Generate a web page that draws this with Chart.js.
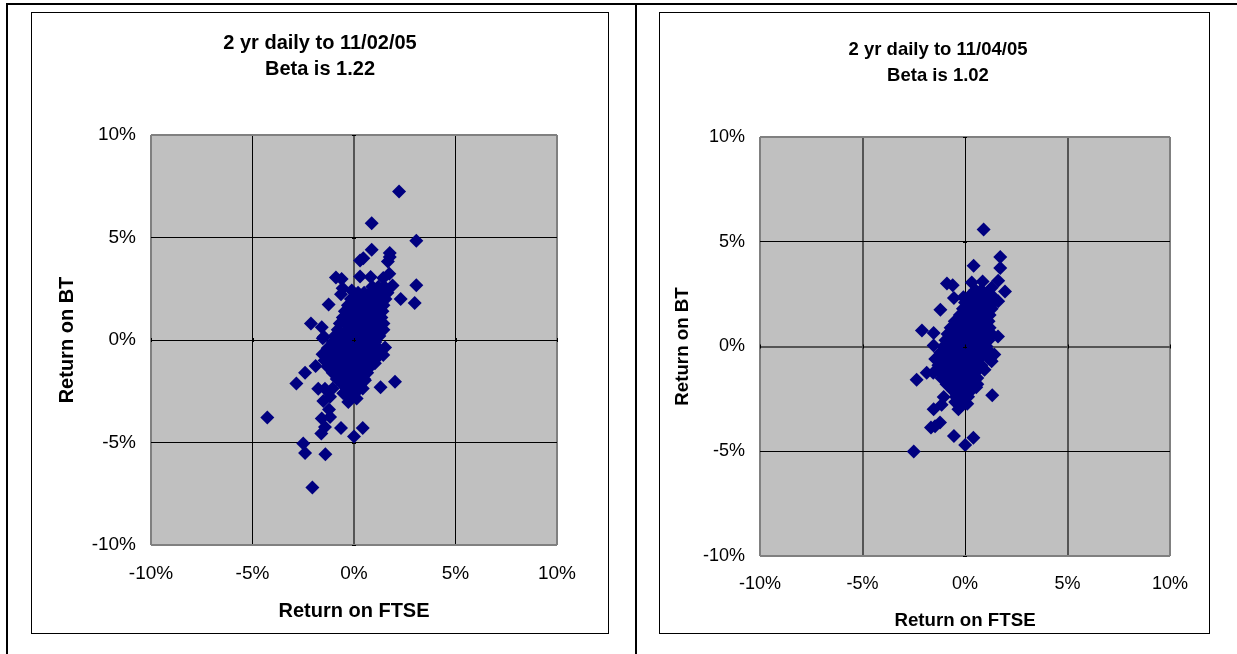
<!DOCTYPE html>
<html>
<head>
<meta charset="utf-8">
<script src="https://cdn.jsdelivr.net/npm/chart.js@4/dist/chart.umd.min.js"></script>
<style>
html,body{margin:0;padding:0;background:#fff;overflow:hidden}
#page{position:relative;width:1237px;height:654px;overflow:hidden}
.rule{position:absolute;background:#000}
.box{position:absolute;border:1px solid #000;box-sizing:border-box}
canvas{position:absolute}
</style>
</head>
<body>
<div id="page">
<div class="rule" style="left:6px;top:3px;width:1231px;height:2px"></div>
<div class="rule" style="left:6px;top:3px;width:2px;height:651px"></div>
<div class="rule" style="left:635px;top:3px;width:2px;height:651px"></div>
<div class="box" style="left:31px;top:12px;width:578px;height:622px"></div>
<div class="box" style="left:659px;top:12px;width:551px;height:622px"></div>
<canvas id="c1" width="578" height="622" style="left:31px;top:12px"></canvas>
<canvas id="c2" width="558" height="622" style="left:659px;top:12px"></canvas>
</div>
<script>
const titleFeb = ["2 yr daily to 11/02/05", "Beta is 1.22"];
const titleApr = ["2 yr daily to 11/04/05", "Beta is 1.02"];
const xAxisTitle = "Return on FTSE";
const yAxisTitle = "Return on BT";

const outliersFeb = [[2.22,7.24],[0.87,5.69],[3.07,4.84],[0.87,4.4],[0.46,3.99],[0.3,3.88],[1.76,4.25],[1.76,4.05],[1.67,3.83],
[-0.89,3.05],[-0.61,2.97],[0.3,3.1],[0.82,3.07],[1.74,3.23],[1.44,3.02],[1.9,2.66],[3.07,2.67],[2.3,2.0],[2.99,1.81],
[-1.25,1.73],[-0.64,2.23],[-0.56,2.53],[-0.11,2.41],[-2.12,0.8],[-1.59,0.62],[-1.48,0.16],[-1.54,0.08],[-1.89,-1.27],
[-2.41,-1.6],[-2.84,-2.12],[-1.76,-2.38],[-1.43,-2.38],[-1.05,-2.36],[-1.18,-2.77],[-1.51,-2.98],[-1.23,-3.39],[-1.18,-3.75],
[-1.59,-3.83],[-1.43,-4.24],[-1.61,-4.56],[-0.64,-4.29],[0.43,-4.29],[0,-4.71],[-4.27,-3.78],[-2.5,-5.05],[-2.41,-5.51],
[-1.41,-5.57],[-2.05,-7.2],[1.31,-2.31],[2.02,-2.04],[-0.28,-3.02],[0.13,-2.85],[-0.53,-2.6],[0.43,-2.36],[0.54,-1.96],
[1.03,-1.14],[1.44,-0.73],[1.53,-0.36]];

const clusterFeb = [[0.9,2.6],[1.2,2.6],[1.5,2.6],
[0.2,2.3],[0.5,2.3],[0.8,2.3],[1.1,2.3],[1.45,2.3],[1.65,2.3],
[-0.15,2.0],[0.05,2.0],[0.35,2.0],[0.7,2.0],[1.0,2.0],[1.3,2.0],[1.55,2.0],
[-0.3,1.7],[-0.1,1.7],[0.2,1.7],[0.5,1.7],[0.85,1.7],[1.15,1.7],[1.45,1.7],
[-0.45,1.4],[-0.25,1.4],[0.1,1.4],[0.4,1.4],[0.75,1.4],[1.05,1.4],[1.4,1.4],
[-0.55,1.1],[-0.25,1.1],[0.05,1.1],[0.3,1.1],[0.65,1.1],[1.0,1.1],[1.35,1.1],
[-0.7,0.8],[-0.35,0.8],[0,0.8],[0.3,0.8],[0.5,0.8],[0.85,0.8],[1.2,0.8],[1.45,0.8],
[-0.8,0.5],[-0.35,0.5],[0,0.5],[0.35,0.5],[0.7,0.5],[1.05,0.5],[1.45,0.5],
[-0.95,0.2],[-0.5,0.2],[-0.15,0.2],[0.2,0.2],[0.55,0.2],[0.9,0.2],[1.25,0.2],
[-1.05,-0.1],[-0.7,-0.1],[-0.35,-0.1],[0,-0.1],[0.35,-0.1],[0.7,-0.1],[1.05,-0.1],
[-1.3,-0.4],[-0.95,-0.4],[-0.6,-0.4],[-0.25,-0.4],[0.1,-0.4],[0.45,-0.4],[0.8,-0.4],[1.2,-0.4],
[-1.55,-0.7],[-1.2,-0.7],[-0.85,-0.7],[-0.5,-0.7],[-0.15,-0.7],[0.2,-0.7],[0.55,-0.7],[0.9,-0.7],[1.3,-0.7],
[-1.45,-1.0],[-1.1,-1.0],[-0.75,-1.0],[-0.4,-1.0],[-0.05,-1.0],[0.3,-1.0],[0.65,-1.0],[1.0,-1.0],
[-1.3,-1.3],[-0.95,-1.3],[-0.6,-1.3],[-0.25,-1.3],[0.1,-1.3],[0.45,-1.3],[0.8,-1.3],
[-1.05,-1.6],[-0.7,-1.6],[-0.35,-1.6],[0,-1.6],[0.35,-1.6],[0.65,-1.6],
[-0.85,-1.9],[-0.5,-1.9],[-0.15,-1.9],[0.2,-1.9],[0.5,-1.9],
[-0.55,-2.2],[-0.25,-2.2],[0.05,-2.2],[0.3,-2.2],
[-0.4,-2.5],[-0.1,-2.5],[0.15,-2.5],[-0.25,-2.8]];

const outliersApr = [[0.91,5.59],[1.72,4.27],[1.72,3.75],[0.42,3.86],[-0.88,3.01],[-0.6,2.92],[0.33,3.06],[0.86,3.1],[1.62,3.14],
[1.3,2.8],[1.95,2.62],[1.62,2.16],[-0.54,2.32],[-0.08,2.35],[-1.2,1.76],[-2.1,0.76],[-1.53,0.65],[-1.53,0.05],[1.61,0.48],
[-2.36,-1.59],[-1.87,-1.25],[-1.55,-1.25],[-1.04,-2.41],[-1.14,-2.78],[-1.53,-3.0],[1.33,-2.33],[-1.22,-3.63],[-1.46,-3.81],
[-1.66,-3.87],[-0.54,-4.27],[0.41,-4.35],[0.01,-4.7],[-2.5,-5.01],[-0.32,-3.0],[-0.48,-2.65],[0.11,-2.73],[0.55,-1.94],
[0.95,-1.11],[1.3,-0.7],[1.43,-0.38]];

const clusterApr = [[0.5,2.7],[0.8,2.7],
[0.2,2.4],[0.5,2.4],[0.8,2.4],[1.1,2.4],[1.35,2.4],
[0,2.1],[0.3,2.1],[0.6,2.1],[0.9,2.1],[1.2,2.1],[1.4,2.1],
[-0.1,1.8],[0.2,1.8],[0.5,1.8],[0.8,1.8],[1.1,1.8],[1.3,1.8],
[-0.25,1.5],[0.05,1.5],[0.35,1.5],[0.65,1.5],[0.95,1.5],[1.2,1.5],
[-0.5,1.2],[-0.2,1.2],[0.1,1.2],[0.4,1.2],[0.7,1.2],[1.15,1.2],
[-0.7,0.9],[-0.4,0.9],[0,0.9],[0.3,0.9],[0.6,0.9],[0.9,0.9],[1.2,0.9],
[-0.85,0.6],[-0.5,0.6],[-0.2,0.6],[0.1,0.6],[0.4,0.6],[0.7,0.6],[1.0,0.6],[1.3,0.6],
[-0.95,0.3],[-0.65,0.3],[-0.35,0.3],[-0.05,0.3],[0.25,0.3],[0.55,0.3],[0.85,0.3],[1.15,0.3],
[-1.05,0],[-0.75,0],[-0.45,0],[-0.15,0],[0.15,0],[0.45,0],[0.75,0],[1.05,0],
[-1.2,-0.3],[-0.9,-0.3],[-0.6,-0.3],[-0.3,-0.3],[0,-0.3],[0.3,-0.3],[0.6,-0.3],[0.9,-0.3],[1.25,-0.3],
[-1.45,-0.6],[-1.1,-0.6],[-0.8,-0.6],[-0.5,-0.6],[-0.2,-0.6],[0.1,-0.6],[0.4,-0.6],[0.7,-0.6],[1.2,-0.6],
[-1.3,-0.9],[-1.0,-0.9],[-0.7,-0.9],[-0.4,-0.9],[-0.1,-0.9],[0.2,-0.9],[0.5,-0.9],[0.8,-0.9],
[-1.25,-1.2],[-0.95,-1.2],[-0.65,-1.2],[-0.35,-1.2],[-0.05,-1.2],[0.25,-1.2],[0.55,-1.2],
[-1.15,-1.5],[-0.85,-1.5],[-0.55,-1.5],[-0.25,-1.5],[0.05,-1.5],[0.35,-1.5],[0.6,-1.5],
[-0.9,-1.8],[-0.6,-1.8],[-0.3,-1.8],[0,-1.8],[0.3,-1.8],[0.6,-1.8],
[-0.6,-2.1],[-0.3,-2.1],[0,-2.1],[0.3,-2.1],
[-0.45,-2.4],[-0.15,-2.4],[0.15,-2.4],[-0.3,-2.7],[0,-2.7]];

const font = "'Liberation Sans', Arial, sans-serif";
const markerColor = "#000080";
const plotColor = "#C0C0C0";

const plotBackground = {
  id: "plotBackground",
  beforeDraw(chart) {
    const a = chart.chartArea, c = chart.ctx;
    c.save(); c.fillStyle = plotColor;
    c.fillRect(a.left, a.top, a.right - a.left, a.bottom - a.top);
    c.restore();
  }
};
const crossTicks = {
  id: "crossTicks",
  afterDraw(chart) {
    const c = chart.ctx, x = chart.scales.x, y = chart.scales.y;
    const x0 = x.getPixelForValue(0), y0 = y.getPixelForValue(0);
    c.save(); c.strokeStyle = "#000"; c.lineWidth = 1; c.beginPath();
    x.ticks.forEach(t => { const p = Math.round(x.getPixelForValue(t.value)) + .5; c.moveTo(p, y0 - 2); c.lineTo(p, y0 + 2); });
    y.ticks.forEach(t => { const p = Math.round(y.getPixelForValue(t.value)) + .5; c.moveTo(x0 - 2, p); c.lineTo(x0 + 2, p); });
    c.stroke(); c.restore();
  }
};

function gridStyle(heavy) {
  return {
    drawTicks: false,
    color: ctx => Math.abs(ctx.tick.value) === 10 ? "#808080" : (heavy.includes(ctx.tick.value) ? "#555" : "#000"),
    lineWidth: ctx => (Math.abs(ctx.tick.value) === 10 || heavy.includes(ctx.tick.value)) ? 2 : 1
  };
}

function makeChart(id, title, points, cfg) {
  return new Chart(document.getElementById(id), {
    type: "scatter",
    data: { datasets: [{ data: points.map(p => ({ x: p[0], y: p[1] })), backgroundColor: markerColor, borderWidth: 0, pointStyle: "rectRot", pointRadius: 7, pointHoverRadius: 7 }] },
    plugins: [plotBackground, crossTicks],
    options: {
      responsive: false, animation: false,
      layout: { padding: 0 },
      plugins: {
        legend: { display: false }, tooltip: { enabled: false },
        title: { display: true, text: title, color: "#000", font: { family: font, size: cfg.titleSize, weight: "bold", lineHeight: 26 / cfg.titleSize }, padding: { top: cfg.titleTop, bottom: cfg.titleBottom } }
      },
      scales: {
        x: {
          type: "linear", min: -10, max: 10,
          ticks: { stepSize: 5, padding: cfg.xPad, color: "#000", maxRotation: 0, font: { family: font, size: cfg.tickSize }, callback: v => v + "%" },
          grid: gridStyle(cfg.heavyX), border: { display: false },
          title: { display: true, text: xAxisTitle, color: "#000", font: { family: font, size: cfg.axisSize, weight: "bold" }, padding: { top: 0, bottom: cfg.xTitleBottom } },
          afterFit(s) { s.height = cfg.xHeight; }
        },
        y: {
          type: "linear", min: -10, max: 10,
          ticks: { stepSize: 5, padding: 15, color: "#000", font: { family: font, size: cfg.tickSize }, callback: v => v + "%" },
          grid: gridStyle(cfg.heavyY), border: { display: false },
          title: { display: true, text: yAxisTitle, color: "#000", font: { family: font, size: cfg.axisSize, weight: "bold" }, padding: { top: cfg.yTitleLeft, bottom: 0 } },
          afterFit(s) { s.width = cfg.yWidth; }
        },
        spacer: {
          type: "linear", position: "right", min: -10, max: 10,
          ticks: { display: false }, grid: { display: false }, border: { display: false },
          afterFit(s) { s.width = cfg.right; }
        }
      }
    }
  });
}

makeChart("c1", titleFeb, outliersFeb.concat(clusterFeb), {
  titleSize: 20, tickSize: 19, axisSize: 20,
  right: 52, titleTop: 18, titleBottom: 53, xPad: 17, xHeight: 89, xTitleBottom: 11,
  yWidth: 120, yTitleLeft: 24, heavyX: [0], heavyY: []
});
makeChart("c2", titleApr, outliersApr.concat(clusterApr), {
  titleSize: 18.5, tickSize: 18, axisSize: 18.7,
  right: 47, titleTop: 25, titleBottom: 48, xPad: 17, xHeight: 78, xTitleBottom: 2,
  yWidth: 101, yTitleLeft: 13, heavyX: [-5, 5], heavyY: [0]
});
</script>
</body>
</html>
